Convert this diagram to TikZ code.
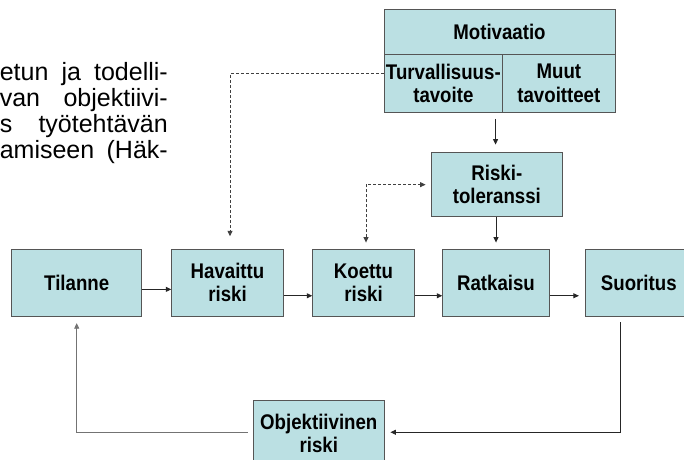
\documentclass[tikz,border=0pt]{standalone}
\usepackage{fontspec}
\setmainfont{Liberation Sans}
\newfontfamily\boxfont{Liberation Sans}[FakeStretch=0.88]
\newfontfamily\parafont{Liberation Sans}
\usetikzlibrary{arrows.meta}
\definecolor{boxfill}{RGB}{187,224,227}
\definecolor{boxline}{RGB}{85,85,85}
\newcommand{\paraline}[1]{{\parafont\fontsize{25}{26}\selectfont\makebox[168pt][s]{#1}}}
\begin{document}
\begin{tikzpicture}[x=1pt,y=-1pt,
  blk/.style={draw=boxline, fill=boxfill, line width=0.9pt, inner sep=0pt,
    align=center, font=\boxfont\bfseries\fontsize{21.2}{23.3}\selectfont},
  tip/.tip={Triangle[length=5.5pt,width=5pt]},
  arr/.style={draw=black!85, line width=0.8pt, -tip},
  arrgray/.style={draw=black!55, line width=0.8pt, -tip},
  dsh/.style={draw=black!75, line width=0.8pt, dash pattern=on 3pt off 2pt},
  para/.style={anchor=base east, inner sep=0pt}]
\useasboundingbox[fill=white] (0,0) rectangle (684,459);

% paragraph fragment at the top left
\node[para] (p1) at (168,80)  {\paraline{etun ja todelli-}};
\node[para] (p2) at (168,106) {\paraline{van objektiivi-}};
\node[para] (p3) at (168,132) {\paraline{s työtehtävän}};
\node[para] (p4) at (168,158) {\paraline{amiseen (Häk-}};

% motivation block
\node[blk, minimum width=231pt, minimum height=44.7pt] (motivaatio) at (499.5,31.7) {Motivaatio};
\node[blk, minimum width=118.7pt, minimum height=58.5pt] (turvallisuus) at (443.35,83.25) {Turvallisuus-\\tavoite};
\node[blk, minimum width=112.3pt, minimum height=58.5pt] (muut) at (558.85,83.25) {Muut\\tavoitteet};

\node[blk, minimum width=130.3pt, minimum height=64pt] (riskitol) at (496.85,184.65) {Riski-\\toleranssi};

% main chain
\node[blk, minimum width=130pt, minimum height=66.5pt] (tilanne) at (76.7,282.75) {Tilanne};
\node[blk, minimum width=111.6pt, minimum height=66.5pt] (havaittu) at (227.5,282.75) {Havaittu\\riski};
\node[blk, minimum width=101.6pt, minimum height=66.5pt] (koettu) at (363.5,282.75) {Koettu\\riski};
\node[blk, minimum width=106.6pt, minimum height=66.5pt] (ratkaisu) at (496,282.75) {Ratkaisu};
\node[blk, minimum width=107pt, minimum height=66.5pt] (suoritus) at (638.8,282.75) {Suoritus};

\node[blk, minimum width=131pt, minimum height=66.5pt] (objekt) at (318.8,433.25) {Objektiivinen\\riski};

% solid connectors
\draw[arr] ([yshift=-6.6pt]tilanne.east) -- ([yshift=-6.6pt]havaittu.west);
\draw[arr] ([yshift=-13pt]havaittu.east) -- ([yshift=-13pt]koettu.west);
\draw[arr] ([yshift=-13pt]koettu.east) -- ([yshift=-13pt]ratkaisu.west);
\draw[arr, shorten >=6pt] ([yshift=-13pt]ratkaisu.east) -- ([yshift=-13pt]ratkaisu.east -| suoritus.west);

\coordinate (mdown) at ([xshift=-6.7pt]muut.south west);
\draw[arr, shorten <=5.8pt, shorten >=7.6pt] (mdown) -- (mdown |- riskitol.north);
\draw[arr, shorten >=6.5pt] (ratkaisu.north |- riskitol.south) -- (ratkaisu.north);

% feedback loop
\draw[arr, shorten <=5.7pt, shorten >=5.7pt] ([xshift=-18.1pt]suoritus.south) |- ([yshift=1pt]objekt.east);
\draw[arrgray, shorten <=5pt, shorten >=6.7pt] ([yshift=1pt]objekt.west) -| (tilanne.south);

% dashed influences
\draw[dsh, -tip, shorten >=12.8pt] ([yshift=9.9pt]turvallisuus.west) -| ([xshift=2.5pt]havaittu.north);
\draw[dsh, tip-tip, shorten <=6.5pt, shorten >=5.7pt] ([xshift=2.5pt]koettu.north) |- (riskitol.west);
\end{tikzpicture}
\end{document}
